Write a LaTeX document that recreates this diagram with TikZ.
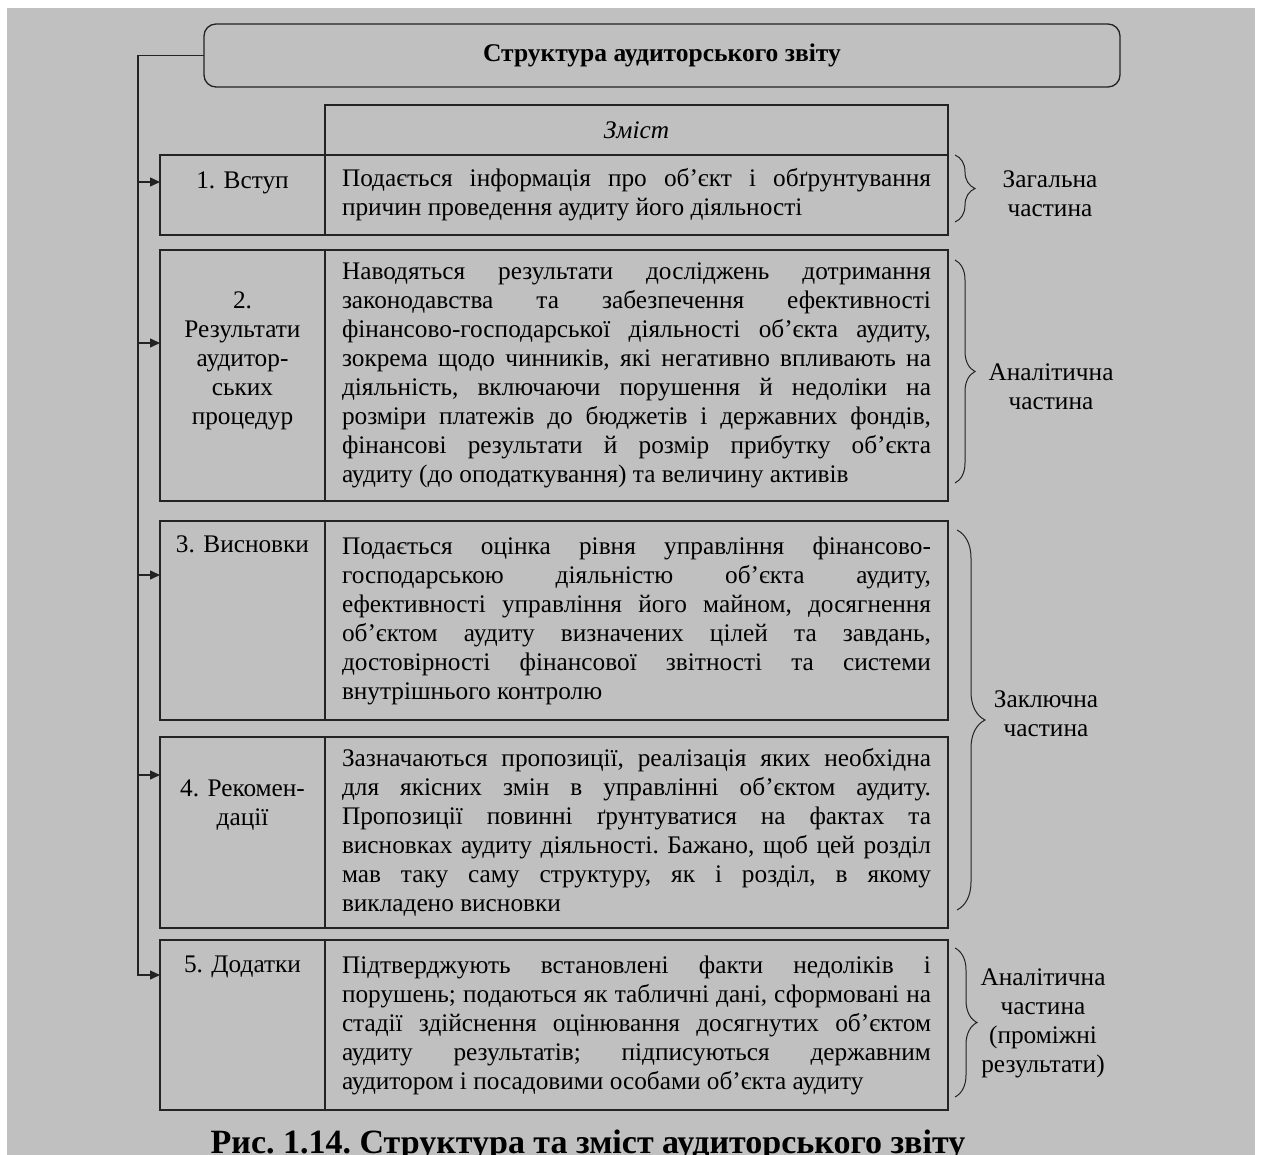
\documentclass[tikz,border=0pt]{standalone}
\usepackage{fontspec}
\setmainfont{Liberation Serif}
\usetikzlibrary{arrows.meta, positioning, decorations.pathreplacing}
\definecolor{paper}{RGB}{192,192,192}
\definecolor{ink}{RGB}{35,35,35}
\tolerance=10000
\frenchspacing
\tikzset{cell/.style = {draw=ink, line width=1.3pt, outer sep=0pt, inner sep=0pt},
    rcell/.style = {cell, minimum width=623pt, text width=589pt,
                    inner xsep=17pt, align=justify},
    lcell/.style = {cell, minimum width=165pt},
    ltext/.style = {text width=160pt, align=center, inner sep=0pt},
    side/.style = {align=center, inner sep=0pt},
    feed/.style = {draw=ink, line width=1.3pt,
                   -{Triangle[length=10pt,width=9pt]}},
    part/.style = {draw=ink, line width=1pt, decorate,
                   decoration={brace, amplitude=#1}},
    part/.default = 20pt}

\begin{document}
\begin{tikzpicture}[x=1pt, y=-1pt, font=\fontsize{25.3}{29}\selectfont, text=black]
\fill[white] (0,0) rectangle (1261,1155);
\fill[paper] (7,8) rectangle (1255,1155);
\useasboundingbox (0,0) rectangle (1261,1155);

% title
\node[cell, rounded corners=12pt, minimum width=916pt, minimum height=63pt,
      font=\fontsize{25.5}{29}\selectfont\bfseries] (title) at (662,55.5)
      {Структура аудиторського звіту};

% table, right column
\node[rcell, minimum height=50pt, align=center,
      font=\fontsize{25.3}{29}\selectfont\itshape] (head) at (636.5,130) {Зміст};
\node[rcell, minimum height=80pt, below=0pt of head] (r1)
     {Подається інформація про об’єкт і обґрунтування\linebreak
      причин проведення аудиту його діяльності};
\node[rcell, minimum height=251pt, below=15pt of r1] (r2)
     {Наводяться результати досліджень дотримання\linebreak
      законодавства та забезпечення ефективності\linebreak
      фінансово-господарської діяльності об’єкта аудиту,\linebreak
      зокрема щодо чинників, які негативно впливають на\linebreak
      діяльність, включаючи порушення й недоліки на\linebreak
      розміри платежів до бюджетів і державних фондів,\linebreak
      фінансові результати й розмір прибутку об’єкта\linebreak
      аудиту (до оподаткування) та величину активів};
\node[rcell, minimum height=199pt, below=20pt of r2] (r3)
     {Подається оцінка рівня управління фінансово-\linebreak
      господарською діяльністю об’єкта аудиту,\linebreak
      ефективності управління його майном, досягнення\linebreak
      об’єктом аудиту визначених цілей та завдань,\linebreak
      достовірності фінансової звітності та системи\linebreak
      внутрішнього контролю};
\node[rcell, minimum height=191pt, below=17pt of r3] (r4)
     {Зазначаються пропозиції, реалізація яких необхідна\linebreak
      для якісних змін в управлінні об’єктом аудиту.\linebreak
      Пропозиції повинні ґрунтуватися на фактах та\linebreak
      висновках аудиту діяльності. Бажано, щоб цей розділ\linebreak
      мав таку саму структуру, як і розділ, в якому\linebreak
      викладено висновки};
\node[rcell, minimum height=170pt, below=12pt of r4] (r5)
     {Підтверджують встановлені факти недоліків і\linebreak
      порушень; подаються як табличні дані, сформовані на\linebreak
      стадії здійснення оцінювання досягнутих об’єктом\linebreak
      аудиту результатів; підписуються державним\linebreak
      аудитором і посадовими особами об’єкта аудиту};

% left column
\foreach \i/\h in {1/80pt,2/251pt,3/199pt,4/191pt,5/170pt}
  \node[lcell, minimum height=\h, left=0pt of r\i] (l\i) {};
\node[ltext, below=13.5pt of l1.north] (t1) {\strut 1. Вступ};
\node[ltext, below=38pt of l2.north] (t2)
     {\strut 2.\\Результати\\аудитор-\\ських\\процедур};
\node[ltext, below=11pt of l3.north] (t3) {\strut 3. Висновки};
\node[ltext, below=39pt of l4.north] (t4) {\strut 4. Рекомен-\\дації};
\node[ltext, below=12pt of l5.north] (t5) {\strut 5. Додатки};

% connectors
\coordinate (trunk) at ([xshift=-66pt]title.west);
\draw[feed] (title.west) -- (trunk) |- ([yshift=-35pt]l5.north west);
\foreach \i/\d in {1/27pt,2/93pt,3/54pt,4/38pt} {
  \coordinate (in\i) at ([yshift=-\d]l\i.north west);
  \draw[feed] (trunk |- in\i) -- (in\i);
}

% braces
\draw[part] ([xshift=7pt]r1.north east) -- ([shift={(7pt,13pt)}]r1.south east);
\draw[part] ([shift={(7pt,-10pt)}]r2.north east) -- ([shift={(7pt,18pt)}]r2.south east);
\draw[part=28pt] ([shift={(9pt,-9pt)}]r3.north east) -- ([shift={(9pt,18pt)}]r4.south east);
\draw[part=22pt] ([shift={(7pt,-8pt)}]r5.north east) -- ([shift={(7pt,13pt)}]r5.south east);

\node[side] (s1) at (1050,194) {Загальна\\частина};
\node[side] (s2) at (1051,387) {Аналітична\\частина};
\node[side] (s3) at (1046,714) {Заключна\\частина};
\node[side] (s4) at (1043,1023) {Аналітична\\частина\\(проміжні\\результати)};

% caption
\node[font=\fontsize{34}{40}\selectfont\bfseries, anchor=base] (cap) at (588,1153)
     {Рис. 1.14. Структура та зміст аудиторського звіту};
\end{tikzpicture}
\end{document}
